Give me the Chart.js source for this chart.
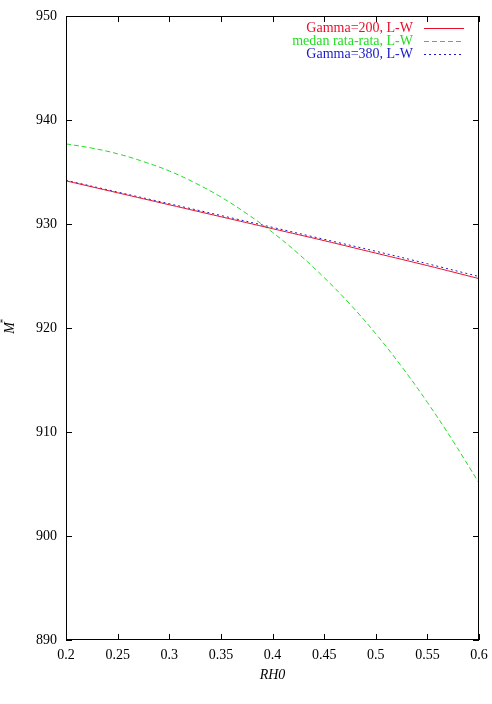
<!DOCTYPE html>
<html>
<head>
<meta charset="utf-8">
<script src="https://cdn.jsdelivr.net/npm/chart.js@4.4.1/dist/chart.umd.min.js"></script>
<style>
  html, body { margin: 0; padding: 0; background: #fff; }
  #wrap { width: 492px; height: 704px; }
</style>
</head>
<body>
<div id="wrap"><canvas id="mstar" width="492" height="704"></canvas></div>
<script>
// data
const rhoCoarse = [0.2, 0.25, 0.3, 0.35, 0.4, 0.45, 0.5, 0.55, 0.6];
const gamma200 = [934.15, 933.0, 931.85, 930.7, 929.55, 928.4, 927.2, 926.0, 924.75];
const gamma380 = [934.2, 933.07, 931.95, 930.82, 929.68, 928.53, 927.38, 926.18, 924.95];

const rhoFine = [0.2, 0.225, 0.25, 0.275, 0.3, 0.325, 0.35, 0.375, 0.4,
                 0.425, 0.45, 0.475, 0.5, 0.525, 0.55, 0.575, 0.6];
const medanRata = [937.7, 937.3, 936.75, 936.0, 935.1, 933.95, 932.6, 931.0, 929.2,
                   927.15, 924.85, 922.3, 919.45, 916.3, 912.85, 909.1, 905.1];

const xTicks = [0.2, 0.25, 0.3, 0.35, 0.4, 0.45, 0.5, 0.55, 0.6];
const yTicks = [890, 900, 910, 920, 930, 940, 950];

const serif = '"Liberation Serif", "DejaVu Serif", serif';

const pts = (xs, ys) => xs.map((x, i) => ({ x: x, y: ys[i] }));

const series = [
    { label: 'Gamma=200, L-W', color: '#e8102c', dash: [], data: pts(rhoCoarse, gamma200) },
    { label: 'medan rata-rata, L-W', color: '#22dd22', dash: [5, 3], data: pts(rhoFine, medanRata) },
    { label: 'Gamma=380, L-W', color: '#1a1acc', dash: [2, 3], data: pts(rhoCoarse, gamma380) }
];

// frame, inward ticks, axis titles and the legend, gnuplot style
const gnuplotLook = {
    id: 'gnuplotLook',
    afterDraw(chart) {
        const c = chart.ctx;
        const a = chart.chartArea;
        const xs = chart.scales.x, ys = chart.scales.y;
        c.save();
        c.strokeStyle = '#000';
        c.lineWidth = 1;
        c.setLineDash([]);
        c.strokeRect(a.left + 0.5, a.top + 0.5, a.right - a.left - 1, a.bottom - a.top - 1);

        c.beginPath();
        xTicks.forEach(v => {
            const px = Math.round(xs.getPixelForValue(v)) + 0.5;
            c.moveTo(px, a.bottom); c.lineTo(px, a.bottom - 6);
            c.moveTo(px, a.top); c.lineTo(px, a.top + 6);
        });
        yTicks.forEach(v => {
            const py = Math.round(ys.getPixelForValue(v)) + 0.5;
            c.moveTo(a.left, py); c.lineTo(a.left + 6, py);
            c.moveTo(a.right, py); c.lineTo(a.right - 6, py);
        });
        c.stroke();

        // axis titles
        c.fillStyle = '#000';
        c.font = 'italic 14px ' + serif;
        c.textAlign = 'center';
        c.textBaseline = 'middle';
        c.fillText('RH0', (a.left + a.right) / 2, 675);

        c.translate(10, (a.top + a.bottom) / 2);
        c.rotate(-Math.PI / 2);
        c.fillText('M', 0, 0);
        c.font = '9px ' + serif;
        c.fillText('*', 7, -6);
        c.restore();

        // legend
        c.save();
        c.font = '14px ' + serif;
        c.textAlign = 'right';
        c.textBaseline = 'middle';
        series.forEach((s, i) => {
            const y = 28 + i * 13;
            c.fillStyle = s.color;
            c.fillText(s.label, 413, y);
            c.strokeStyle = s.color;
            c.lineWidth = 1;
            c.setLineDash(s.dash);
            c.beginPath();
            c.moveTo(424, y + 0.5);
            c.lineTo(464, y + 0.5);
            c.stroke();
        });
        c.restore();
    }
};

new Chart(document.getElementById('mstar').getContext('2d'), {
    type: 'line',
    data: {
        datasets: series.map(s => ({
            label: s.label,
            data: s.data,
            borderColor: s.color,
            borderWidth: 1,
            borderDash: s.dash,
            pointRadius: 0,
            tension: 0.4,
            fill: false
        }))
    },
    options: {
        responsive: false,
        animation: false,
        layout: { padding: { top: 16, right: 13, left: 0, bottom: 0 } },
        plugins: {
            legend: { display: false },
            tooltip: { enabled: false }
        },
        scales: {
            x: {
                type: 'linear',
                min: 0.2,
                max: 0.6,
                afterFit: s => { s.height = 64; s.paddingLeft = 0; s.paddingRight = 0; },
                afterBuildTicks: s => { s.ticks = xTicks.map(v => ({ value: v })); },
                grid: { display: false, drawTicks: false },
                border: { display: false },
                ticks: {
                    color: '#000',
                    padding: 7,
                    font: { family: serif, size: 14 },
                    callback: v => String(+v.toFixed(2))
                }
            },
            y: {
                min: 890,
                max: 950,
                afterFit: s => { s.width = 66; s.paddingTop = 0; s.paddingBottom = 0; },
                afterBuildTicks: s => { s.ticks = yTicks.map(v => ({ value: v })); },
                grid: { display: false, drawTicks: false },
                border: { display: false },
                ticks: {
                    color: '#000',
                    padding: 9,
                    font: { family: serif, size: 14 }
                }
            }
        }
    },
    plugins: [gnuplotLook]
});
</script>
</body>
</html>
